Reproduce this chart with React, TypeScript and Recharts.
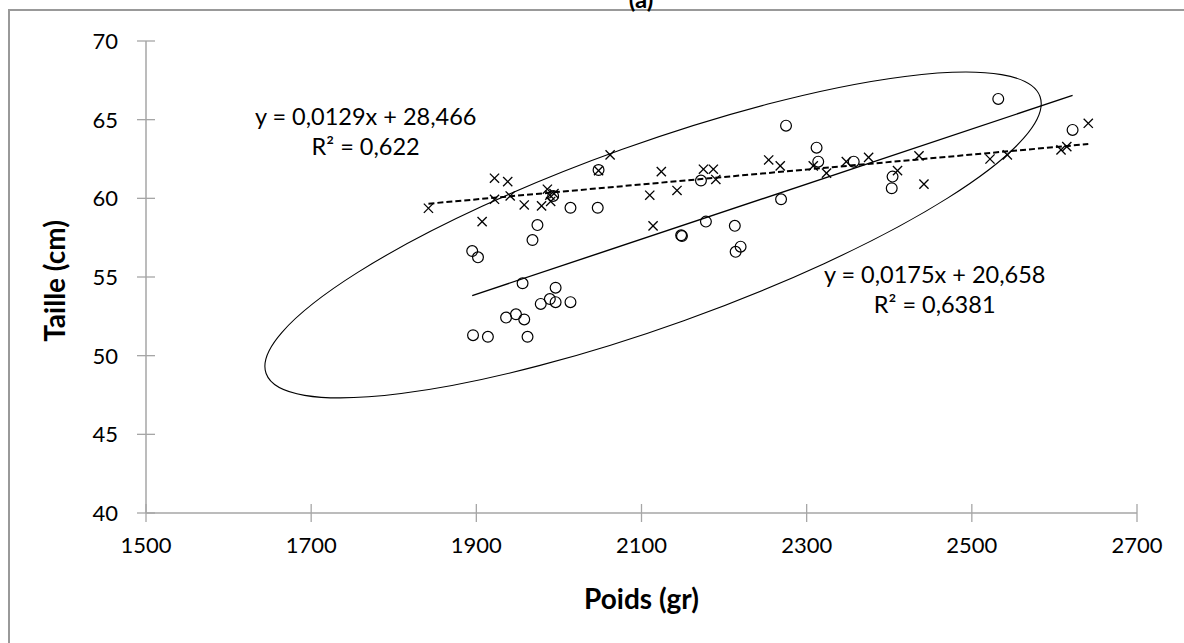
import React from "react";
import {
  ScatterChart,
  Scatter,
  XAxis,
  YAxis,
  ReferenceLine,
  ReferenceDot,
} from "recharts";

// Poids (gr) / Taille (cm), série "o"
const circlePoids = [
  1895, 1902, 1896, 1914, 1962, 1936, 1948, 1958, 1978, 1989, 1996, 2014,
  1996, 1956, 1968, 1974, 1993, 2014, 2047, 2048, 2148, 2149, 2172, 2178,
  2213, 2214, 2220, 2269, 2275, 2312, 2314, 2357, 2404, 2403, 2532, 2622,
];
const circleTaille = [
  56.65, 56.25, 51.3, 51.2, 51.2, 52.42, 52.63, 52.3, 53.29, 53.6, 53.4, 53.4,
  54.32, 54.6, 57.35, 58.3, 60.15, 59.4, 59.4, 61.8, 57.65, 57.6, 61.13, 58.52,
  58.25, 56.6, 56.93, 59.94, 64.62, 63.22, 62.33, 62.33, 61.38, 60.64, 66.32, 64.35,
];

// série "x"
const crossPoids = [
  1842, 1907, 1922, 1938, 1922, 1941, 1958, 1979, 1986, 1989, 1990, 1994,
  2048, 2062, 2110, 2114, 2124, 2143, 2175, 2187, 2190, 2254, 2268, 2308,
  2324, 2348, 2375, 2410, 2436, 2442, 2522, 2543, 2608, 2615, 2641,
];
const crossTaille = [
  59.37, 58.52, 61.28, 61.06, 59.94, 60.15, 59.58, 59.52, 60.58, 60.2, 59.8, 60.3,
  61.76, 62.76, 60.2, 58.25, 61.7, 60.5, 61.85, 61.85, 61.2, 62.44, 62.06, 62.06,
  61.6, 62.33, 62.6, 61.76, 62.7, 60.9, 62.5, 62.76, 63.08, 63.29, 64.77,
];

// trendlines (end points)
const solidTrendPoids = [1895, 2622];
const solidTrendTaille = [53.82, 66.54];
const dashedTrendPoids = [1842, 2641];
const dashedTrendTaille = [59.66, 63.45];

const xTicks = [1500, 1700, 1900, 2100, 2300, 2500, 2700];
const yTicks = [40, 45, 50, 55, 60, 65, 70];

const ellipseCenter = { x: 2114, y: 57.67 };

const labelDashed = ["y = 0,0129x + 28,466", "R² = 0,622"];
const labelSolid = ["y = 0,0175x + 20,658", "R² = 0,6381"];

const circles = circlePoids.map((x, i) => ({ x, y: circleTaille[i] }));
const crosses = crossPoids.map((x, i) => ({ x, y: crossTaille[i] }));

const FONT = "Lato, 'Open Sans', sans-serif";
const AXIS = "#a6a6a6";
const TICK_SIZE = 22;
const EQ_SIZE = 23.5;
const TITLE_SIZE = 28;

const CircleShape = (p: any) => (
  <circle cx={p.cx} cy={p.cy} r={5.4} fill="none" stroke="#000" strokeWidth={1.2} />
);

const CrossShape = (p: any) => {
  const s = 4.6;
  return (
    <g stroke="#000" strokeWidth={1.3}>
      <line x1={p.cx - s} y1={p.cy - s} x2={p.cx + s} y2={p.cy + s} />
      <line x1={p.cx - s} y1={p.cy + s} x2={p.cx + s} y2={p.cy - s} />
    </g>
  );
};

const YTick = (p: any) => (
  <g>
    <line x1={p.x - 9} y1={p.y} x2={p.x + 9} y2={p.y} stroke={AXIS} strokeWidth={1.3} />
    <text x={p.x - 28} y={p.y + 8} textAnchor="end" fontFamily={FONT} fontSize={TICK_SIZE} fill="#000">
      {p.payload.value}
    </text>
  </g>
);

const XTick = (p: any) => (
  <g>
    <line x1={p.x} y1={p.y - 9} x2={p.x} y2={p.y + 9} stroke={AXIS} strokeWidth={1.3} />
    <text x={p.x} y={p.y + 40} textAnchor="middle" fontFamily={FONT} fontSize={TICK_SIZE} fill="#000">
      {p.payload.value}
    </text>
  </g>
);

const eqLabel = (lines: string[]) => (p: any) => (
  <text x={p.cx} y={p.cy} textAnchor="middle" fontFamily={FONT} fontSize={EQ_SIZE} fill="#000">
    <tspan x={p.cx}>{lines[0]}</tspan>
    <tspan x={p.cx} dy={30}>{lines[1]}</tspan>
  </text>
);

export default function App() {
  return (
    <div style={{ position: "absolute", left: 0, top: 0, width: 1184, height: 643, overflow: "hidden", background: "#fff" }}>
      <div
        style={{
          position: "absolute",
          left: 8,
          top: 9,
          width: 1300,
          height: 800,
          borderTop: "2px solid #999",
          borderLeft: "2px solid #999",
        }}
      />
      <div
        style={{
          position: "absolute",
          left: 0,
          top: -13,
          width: 1282,
          textAlign: "center",
          fontFamily: FONT,
          fontWeight: 700,
          fontSize: 24,
          lineHeight: "24px",
        }}
      >
        (a)
      </div>
      <div style={{ position: "absolute", left: 0, top: 0 }}>
        <ScatterChart width={1184} height={643} margin={{ top: 41, right: 47, left: 0, bottom: 0 }}>
          <XAxis
            type="number"
            dataKey="x"
            domain={[1500, 2700]}
            ticks={xTicks}
            height={130}
            tickSize={0}
            tickMargin={0}
            axisLine={{ stroke: AXIS, strokeWidth: 1.5 }}
            tick={XTick}
            label={{
              content: (p: any) => (
                <text
                  x={p.viewBox.x + p.viewBox.width / 2}
                  y={p.viewBox.y + 96}
                  textAnchor="middle"
                  fontFamily={FONT}
                  fontWeight={700}
                  fontSize={TITLE_SIZE}
                  fill="#000"
                >
                  Poids (gr)
                </text>
              ),
            }}
          />
          <YAxis
            type="number"
            dataKey="y"
            domain={[40, 70]}
            ticks={yTicks}
            width={146}
            tickSize={0}
            tickMargin={0}
            axisLine={{ stroke: AXIS, strokeWidth: 1.5 }}
            tick={YTick}
            label={{
              content: (p: any) => {
                const cx = 54;
                const cy = p.viewBox.y + p.viewBox.height / 2 + 4;
                return (
                  <text
                    x={cx}
                    y={cy}
                    transform={`rotate(-90 ${cx} ${cy})`}
                    textAnchor="middle"
                    dominantBaseline="central"
                    fontFamily={FONT}
                    fontWeight={700}
                    fontSize={TITLE_SIZE}
                    fill="#000"
                  >
                    Taille (cm)
                  </text>
                );
              },
            }}
          />
          <ReferenceDot
            x={ellipseCenter.x}
            y={ellipseCenter.y}
            r={0}
            ifOverflow="visible"
            shape={(p: any) => (
              <ellipse
                cx={p.cx}
                cy={p.cy}
                rx={411}
                ry={91}
                transform={`rotate(-19.7 ${p.cx} ${p.cy})`}
                fill="none"
                stroke="#000"
                strokeWidth={1.1}
              />
            )}
          />
          <ReferenceLine
            segment={[
              { x: solidTrendPoids[0], y: solidTrendTaille[0] },
              { x: solidTrendPoids[1], y: solidTrendTaille[1] },
            ]}
            stroke="#000"
            strokeWidth={1.4}
            ifOverflow="visible"
          />
          <ReferenceLine
            segment={[
              { x: dashedTrendPoids[0], y: dashedTrendTaille[0] },
              { x: dashedTrendPoids[1], y: dashedTrendTaille[1] },
            ]}
            stroke="#000"
            strokeWidth={2}
            strokeDasharray="6 3"
            ifOverflow="visible"
          />
          <Scatter data={circles} shape={CircleShape} isAnimationActive={false} />
          <Scatter data={crosses} shape={CrossShape} isAnimationActive={false} />
          <ReferenceDot x={1766} y={64.67} r={0} ifOverflow="visible" shape={eqLabel(labelDashed)} />
          <ReferenceDot x={2455} y={54.62} r={0} ifOverflow="visible" shape={eqLabel(labelSolid)} />
        </ScatterChart>
      </div>
    </div>
  );
}
